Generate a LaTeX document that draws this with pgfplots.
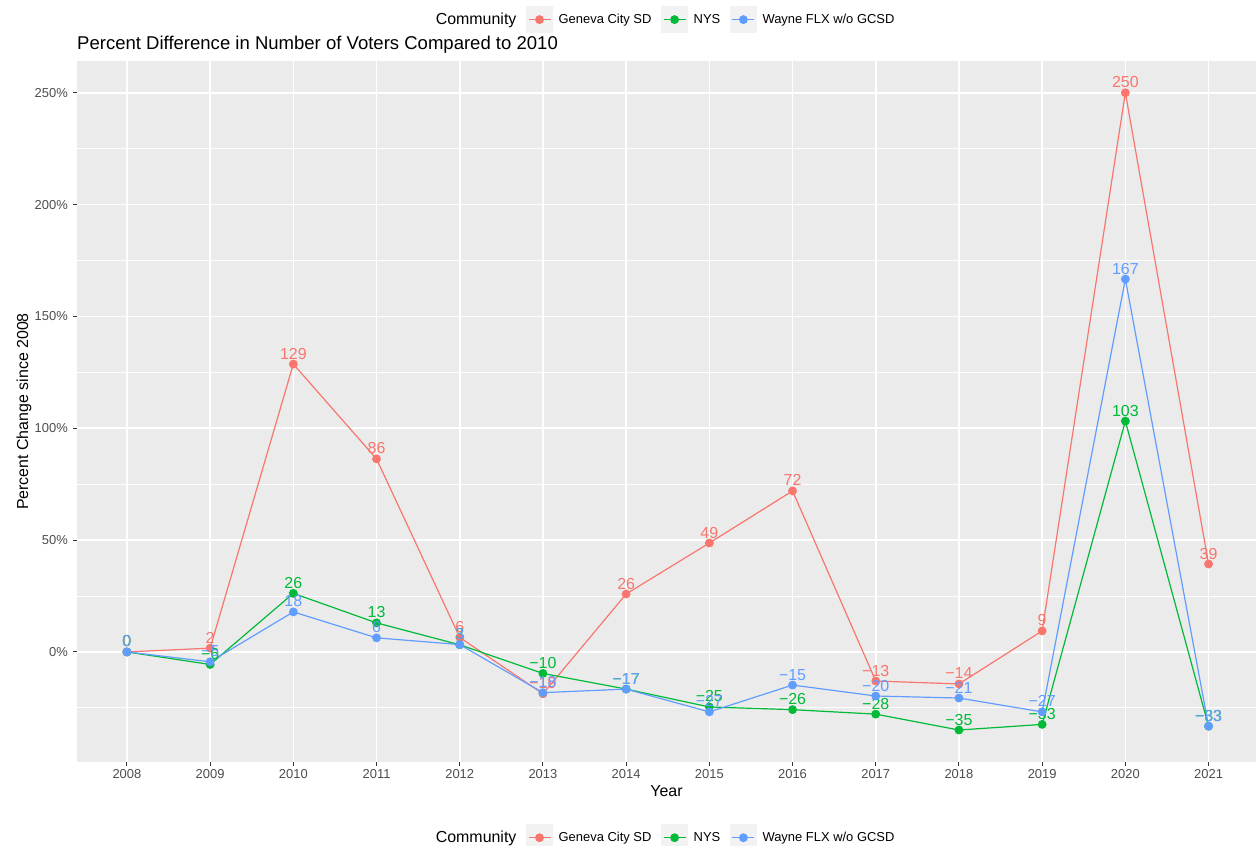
\documentclass[border=0pt]{standalone}
\usepackage{pgfplots}
\pgfplotsset{compat=1.18}
\usepackage{fontspec}
\setmainfont{Liberation Sans}
\definecolor{cG}{HTML}{F8766D}
\definecolor{cN}{HTML}{00BA38}
\definecolor{cW}{HTML}{619CFF}
\definecolor{panel}{HTML}{EBEBEB}
\definecolor{legbg}{HTML}{F2F2F2}
\definecolor{ticklab}{HTML}{4D4D4D}
\definecolor{tickc}{HTML}{333333}
\pgfplotsset{
  ggleg/.style={legend image code/.code={%
    \fill[legbg] (0bp,-13bp) rectangle (26bp,13bp);
    \draw[mark repeat=2,mark phase=2,##1] plot coordinates {(2bp,0bp) (13bp,0bp) (24bp,0bp)};}},
  gglegend/.style={
    legend columns=4,
    legend style={draw=none, fill=none, font=\fontsize{13}{15}\selectfont,
      /tikz/every odd column/.append style={column sep=2bp},
      /tikz/every even column/.append style={column sep=6bp},
      nodes={inner xsep=3.5bp, inner ysep=0bp}},
  },
  ser/.style={#1, line width=1.2bp, mark=*, mark size=3.8bp,
    mark options={solid, fill=#1, draw=#1},
    nodes near coords, point meta=explicit symbolic,
    every node near coord/.append style={font=\fontsize{16}{18}\selectfont, text=#1, anchor=base, yshift=5bp, inner sep=0pt}},
}
\begin{document}
\begin{tikzpicture}
\useasboundingbox (0,0) rectangle (1256bp,846bp);
\clip (0,0) rectangle (1256bp,846bp);
\begin{axis}[
  scale only axis, width=1179bp, height=701bp,
  at={(77bp,84bp)}, anchor=south west,
  xmin=2007.4, xmax=2021.57, ymin=-49.2, ymax=264.2,
  clip=false,
  axis background/.style={fill=panel},
  axis line style={draw=none},
  xtick={2008,2009,2010,2011,2012,2013,2014,2015,2016,2017,2018,2019,2020,2021},
  xticklabels={2008,2009,2010,2011,2012,2013,2014,2015,2016,2017,2018,2019,2020,2021},
  ytick={0,50,100,150,200,250},
  yticklabels={0\%,50\%,100\%,150\%,200\%,250\%},
  minor ytick={-25,25,75,125,175,225},
  xmajorgrids, ymajorgrids, yminorgrids,
  major grid style={white, line width=1.6bp},
  minor grid style={white, line width=0.8bp},
  tick align=outside, tick pos=left,
  major tick length=4bp, minor tick length=0pt,
  tick style={tickc, line width=1bp},
  ticklabel style={font=\fontsize{13}{15}\selectfont, text=ticklab},
  xticklabel style={anchor=north, inner sep=0pt, yshift=-3.5bp},
  yticklabel style={anchor=east, inner sep=0pt, xshift=-5bp},
  ggleg, gglegend,
  legend style={at={(0.498,1.059)}, anchor=center},
]
\addlegendimage{empty legend}
\addlegendentry{\fontsize{16}{18}\selectfont Community}
\addplot[ser=cG] coordinates {
(2008,0) [0] (2009,1.7) [2] (2010,128.7) [129] (2011,86.3) [86] (2012,6.5) [6]
(2013,-18.7) [−19] (2014,25.9) [26] (2015,48.7) [49] (2016,72) [72]
(2017,-13) [−13] (2018,-14.3) [−14] (2019,9.4) [9] (2020,250) [250] (2021,39.3) [39]};
\addlegendentry{Geneva City SD}
\addplot[ser=cN] coordinates {
(2008,0) [0] (2009,-5.6) [−6] (2010,26.2) [26] (2011,13) [13] (2012,3.2) [3]
(2013,-9.6) [−10] (2014,-16.6) [−17] (2015,-24.6) [−25] (2016,-25.8) [−26]
(2017,-27.8) [−28] (2018,-34.9) [−35] (2019,-32.4) [−33] (2020,103.2) [103] (2021,-33.2) [−33]};
\addlegendentry{NYS}
\addplot[ser=cW] coordinates {
(2008,0) [0] (2009,-4.4) [−5] (2010,17.9) [18] (2011,6.3) [6] (2012,3.3) [3]
(2013,-18.2) [−18] (2014,-16.6) [−17] (2015,-26.8) [−27] (2016,-14.8) [−15]
(2017,-19.7) [−20] (2018,-20.6) [−21] (2019,-26.8) [−27] (2020,166.7) [167] (2021,-33.2) [−33]};
\addlegendentry{Wayne FLX w/o GCSD}
\node[anchor=base west, font=\fontsize{18.6}{22}\selectfont, inner sep=0pt] at (rel axis cs:0,1) [yshift=11.7bp] {Percent Difference in Number of Voters Compared to 2010};
\node[xshift=-53bp, rotate=90, font=\fontsize{16}{18}\selectfont, inner sep=0pt] at (rel axis cs:0,0.5) {Percent Change since 2008};
\node[anchor=base, font=\fontsize{16}{18}\selectfont, inner sep=0pt] at (rel axis cs:0.5,0) [yshift=-35bp] {Year};
\end{axis}
\begin{axis}[
  scale only axis, width=1179bp, height=701bp,
  at={(77bp,84bp)}, anchor=south west,
  xmin=0, xmax=1, ymin=0, ymax=1, hide axis,
  ggleg, gglegend,
  legend style={at={(0.498,-0.108)}, anchor=center},
]
\addlegendimage{empty legend}
\addlegendentry{\fontsize{16}{18}\selectfont Community}
\addlegendimage{ser=cG}
\addlegendentry{Geneva City SD}
\addlegendimage{ser=cN}
\addlegendentry{NYS}
\addlegendimage{ser=cW}
\addlegendentry{Wayne FLX w/o GCSD}
\end{axis}
\end{tikzpicture}
\end{document}
